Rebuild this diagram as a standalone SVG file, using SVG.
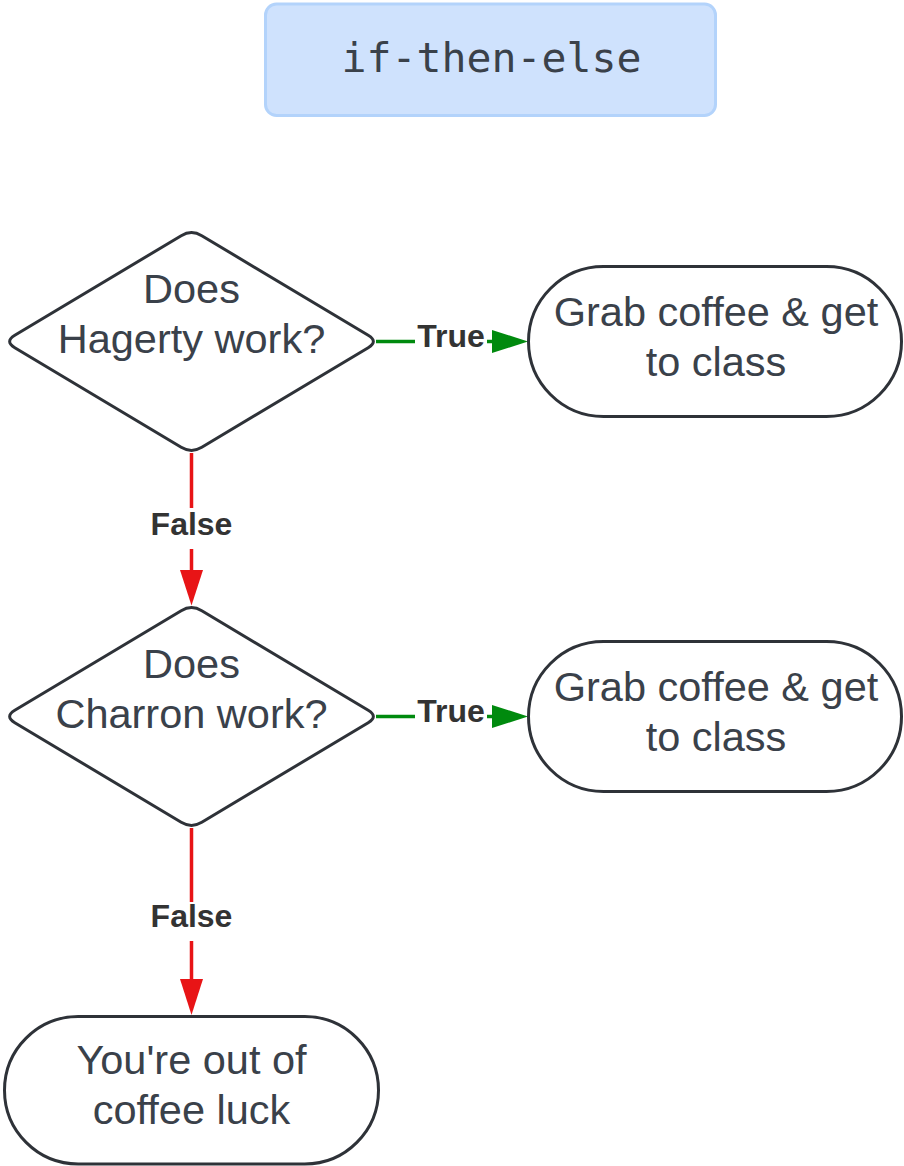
<svg xmlns="http://www.w3.org/2000/svg" width="904" height="1166" viewBox="0 0 904 1166">
<style>
.shape{fill:#ffffff;stroke:#2e3238;stroke-width:3}
.txt{font-family:"Liberation Sans",Arial,sans-serif;font-size:41.5px;fill:#3a414a;text-anchor:middle}
.lbl{font-family:"Liberation Sans",Arial,sans-serif;font-size:32px;font-weight:bold;fill:#333333;text-anchor:middle}
.title{font-family:"DejaVu Sans Mono","Liberation Mono",monospace;font-size:41.5px;fill:#3a414a;text-anchor:middle}
.t{stroke:#008a0e;stroke-width:3.5;fill:none}
.f{stroke:#e81416;stroke-width:3.5;fill:none}
.th{fill:#008a0e}
.fh{fill:#e81416}
</style>
<defs>
<path id="dia" d="M10.3,-105.8 L176.7,-6.2 Q187,0 176.7,6.2 L10.3,105.8 Q0,112 -10.3,105.8 L-176.7,6.2 Q-187,0 -176.7,-6.2 L-10.3,-105.8 Q0,-112 10.3,-105.8 Z"/>
</defs>
<rect width="904" height="1166" fill="#ffffff"/>
<g id="title">
<rect x="265.5" y="4" width="450" height="111.5" rx="11" fill="#cfe2fd" stroke="#b3d3fb" stroke-width="3"/>
<text class="title" x="491.5" y="72">if-then-else</text>
</g>
<g id="connectors">
<path class="t" d="M376,341.5 H415 M487,341.5 H494"/>
<polygon class="th" points="492,330 528,341.5 492,353"/>
<text class="lbl" x="451" y="347">True</text>
<path class="f" d="M191.5,453 V508 M191.5,549 V572"/>
<polygon class="fh" points="180,570 191.5,605.5 203,570"/>
<text class="lbl" x="191.5" y="535">False</text>
<path class="t" d="M376,716.5 H415 M487,716.5 H494"/>
<polygon class="th" points="492,705 528,716.5 492,728"/>
<text class="lbl" x="451" y="722">True</text>
<path class="f" d="M191.5,828 V902 M191.5,941 V981"/>
<polygon class="fh" points="180,979 191.5,1015 203,979"/>
<text class="lbl" x="191.5" y="927">False</text>
</g>
<g id="d1">
<use href="#dia" class="shape" x="191.5" y="341.5"/>
<text class="txt" x="191.5" y="303">Does</text>
<text class="txt" x="191.5" y="353">Hagerty work?</text>
</g>
<g id="t1">
<rect class="shape" x="528.5" y="266.5" width="373" height="150" rx="75"/>
<text class="txt" x="716" y="326">Grab coffee &amp; get</text>
<text class="txt" x="716" y="376">to class</text>
</g>
<g id="d2">
<use href="#dia" class="shape" x="191.5" y="716.5"/>
<text class="txt" x="191.5" y="678">Does</text>
<text class="txt" x="191.5" y="728">Charron work?</text>
</g>
<g id="t2">
<rect class="shape" x="528.5" y="641.5" width="373" height="150" rx="75"/>
<text class="txt" x="716" y="701">Grab coffee &amp; get</text>
<text class="txt" x="716" y="751">to class</text>
</g>
<g id="t3">
<rect class="shape" x="4.5" y="1016.5" width="374" height="147.5" rx="73.75"/>
<text class="txt" x="191.5" y="1074">You're out of</text>
<text class="txt" x="191.5" y="1124">coffee luck</text>
</g>
</svg>
